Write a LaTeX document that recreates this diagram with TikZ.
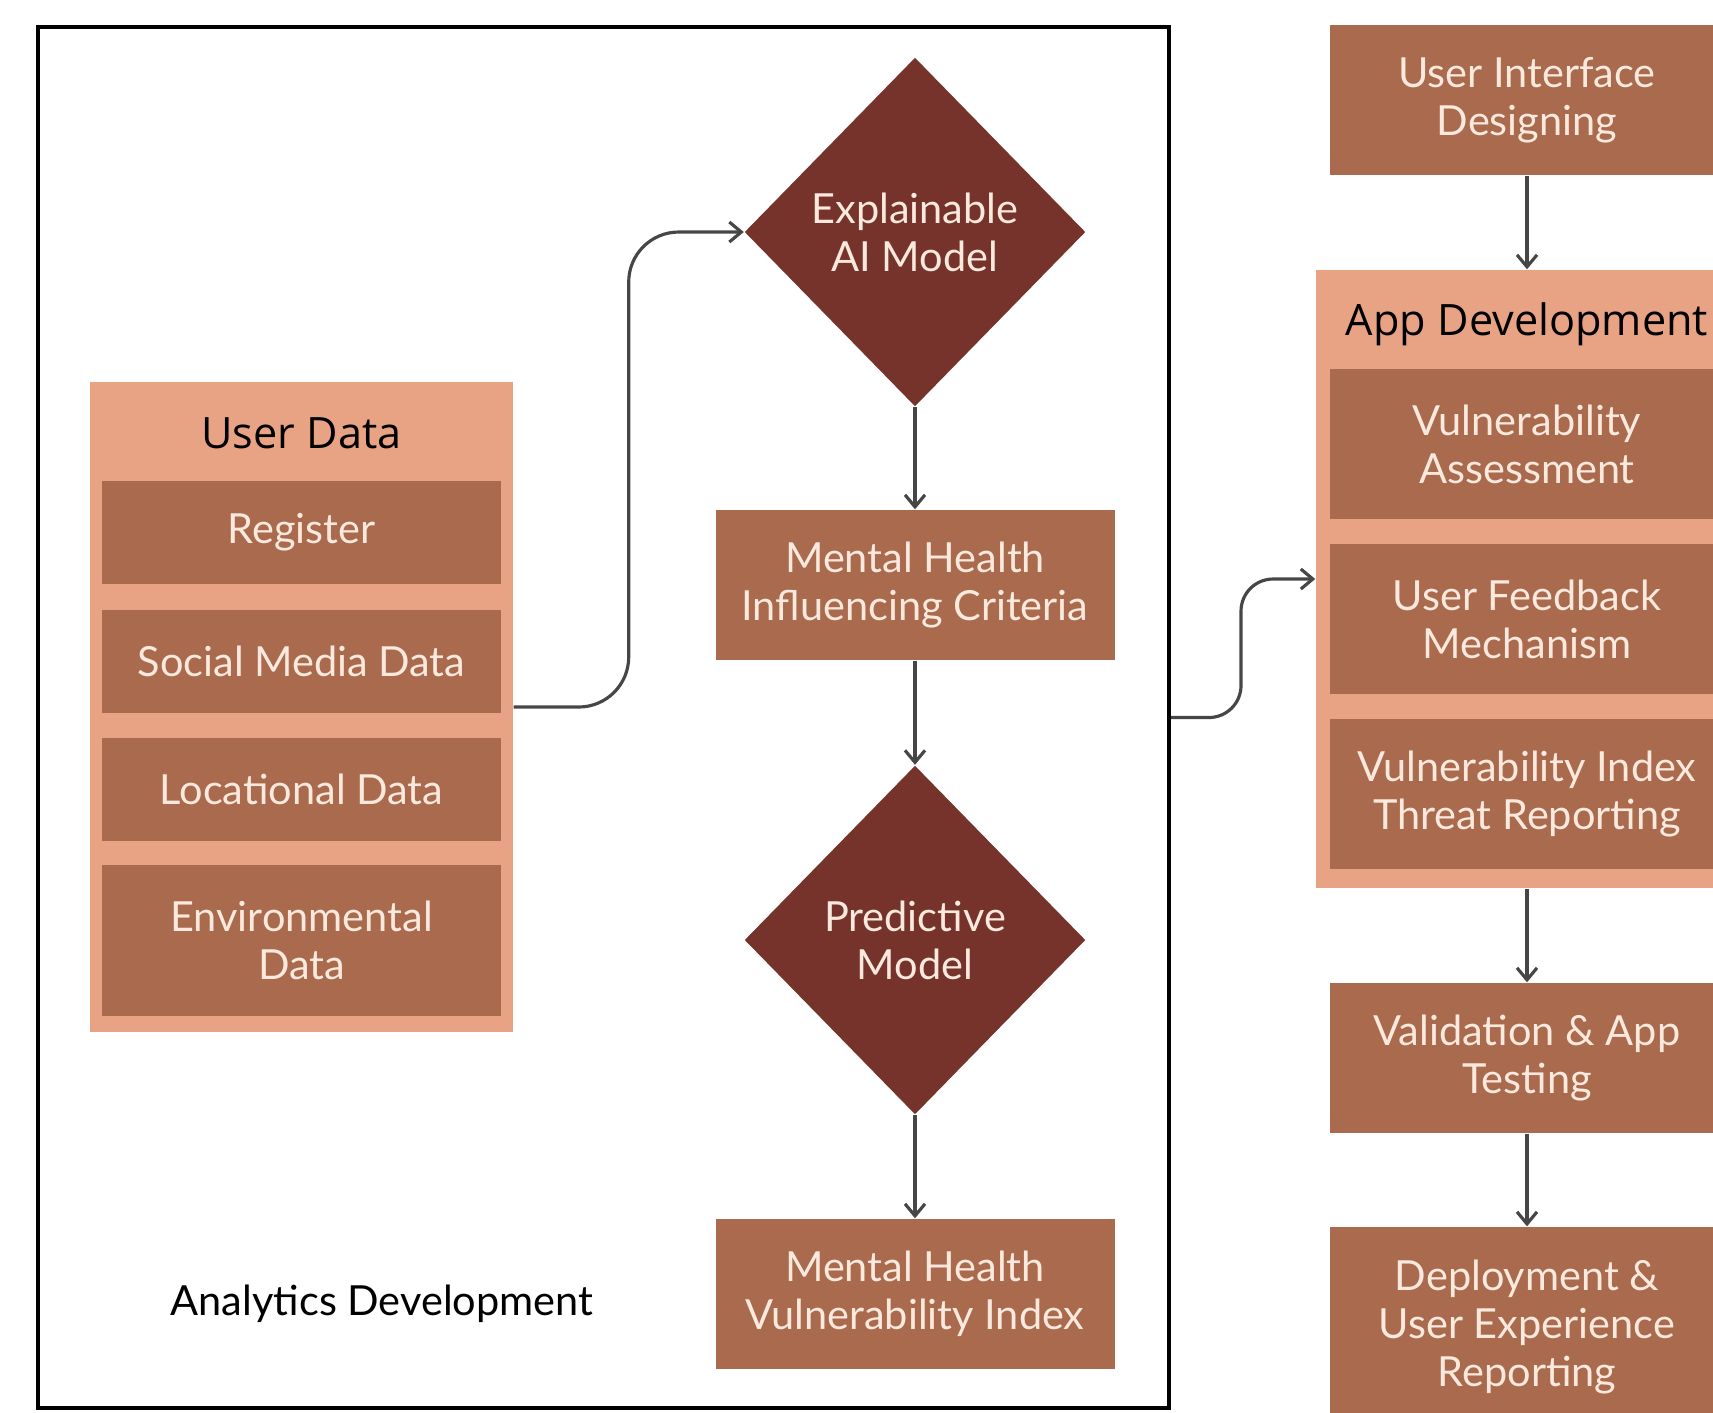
\documentclass[tikz,border=0pt]{standalone}
\usepackage{fontspec}
\setmainfont{Lato}
\newfontfamily\headfont{Open Sans}
\usetikzlibrary{arrows.meta,shapes.geometric}

\definecolor{peach}{HTML}{E8A284}
\definecolor{clay}{HTML}{A96A4E}
\definecolor{wine}{HTML}{76332B}
\definecolor{cream}{HTML}{FBE9DD}
\definecolor{linkgray}{HTML}{464646}

\begin{document}
\begin{tikzpicture}[x=0.1mm, y=-0.1mm, font=\fontsize{11.8}{13.6}\selectfont]
\useasboundingbox (0,0) rectangle (1713,1412);

\node (frame) at (603.5,717.5) [draw, line width=1.15pt, minimum width=113.1mm, minimum height=138.1mm] {};
\node (analytics) at (382,1304) {Analytics Development};

\begin{scope}[every node/.style={fill=peach, inner sep=0}]
\node (userdata) at (301.5,707) [minimum width=42.3mm, minimum height=65mm] {};
\node (appdev) at (1527,579) [minimum width=42.2mm, minimum height=61.8mm] {};
\end{scope}

\begin{scope}[every node/.style={anchor=base, font=\headfont\fontsize{12.3}{13}\selectfont}]
\node (udtitle) at (301.5,448) {User Data};
\node (adtitle) at (1527,335) {App Development};
\end{scope}

\begin{scope}[every node/.style={fill=clay, text=cream, inner sep=0, align=center, minimum width=39.9mm, minimum height=10.3mm}]
\node (register) at (301.5,532.5) {Register};
\node (social) at (301.5,661) {Social Media Data};
\node (location) at (301.5,789) {Locational Data};
\node (environ) at (301.5,940.5) [minimum height=15.1mm] {Environmental\\Data};
\node (mhcriteria) at (915,585) [minimum height=15mm] {Mental Health\\Influencing Criteria};
\node (mhindex) at (915,1294) [minimum height=15mm] {Mental Health\\Vulnerability Index};
\node (uidesign) at (1527,100) [minimum width=39.4mm, minimum height=15mm] {User Interface\\Designing};
\node (vassess) at (1527,444) [minimum width=39.4mm, minimum height=15mm] {Vulnerability\\Assessment};
\node (feedback) at (1527,619) [minimum width=39.4mm, minimum height=15mm] {User Feedback\\Mechanism};
\node (threat) at (1527,794) [minimum width=39.4mm, minimum height=15mm] {Vulnerability Index\\Threat Reporting};
\node (testing) at (1527,1058) [minimum width=39.4mm, minimum height=15mm] {Validation \& App\\Testing};
\node (deploy) at (1527,1327) [minimum width=39.4mm, minimum height=20mm] {Deployment \&\\User Experience\\Reporting};
\end{scope}

\begin{scope}[every node/.style={diamond, fill=wine, text=cream, inner sep=0, align=center, minimum width=34.1mm, minimum height=34.9mm}]
\node (xai) at (915,232) {Explainable\\AI Model};
\node (predict) at (915,940) {Predictive\\Model};
\end{scope}

\begin{scope}[-{Straight Barb[length=1.2mm, width=2mm]}, line width=0.9pt, color=linkgray]
\draw [rounded corners=5mm] (userdata.east) -- ++(115,0) |- (xai.west);
\draw (xai.south) -- (mhcriteria.north);
\draw (mhcriteria.south) -- (predict.north);
\draw (predict.south) -- (mhindex.north);
\draw [rounded corners=3.2mm] (frame.east) -- ++(70,0) |- (appdev.west);
\draw (uidesign.south) -- (appdev.north);
\draw (appdev.south) -- (testing.north);
\draw (testing.south) -- (deploy.north);
\end{scope}

\end{tikzpicture}
\end{document}
